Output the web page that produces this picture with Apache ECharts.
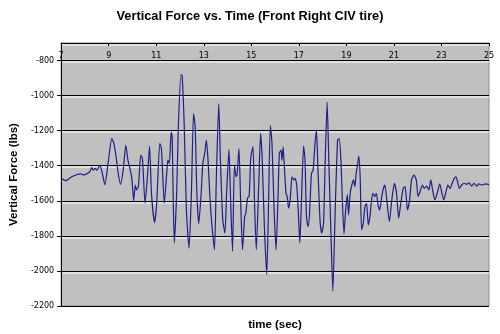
<!DOCTYPE html>
<html><head><meta charset="utf-8">
<script src="https://cdn.jsdelivr.net/npm/echarts@6/dist/echarts.min.js"></script>
<style>html,body{margin:0;padding:0;background:#fff}#c{width:500px;height:334px}</style>
</head><body><div id="c"></div>
<script>
const times = [7.00,7.21,7.41,7.62,7.82,7.96,8.10,8.21,8.28,8.35,8.43,8.51,8.62,8.70,8.84,8.99,9.13,9.22,9.33,9.40,9.50,9.61,9.72,9.81,9.91,9.98,10.05,10.12,10.17,10.25,10.35,10.42,10.53,10.63,10.72,10.80,10.93,11.02,11.15,11.22,11.34,11.45,11.49,11.55,11.63,11.67,11.76,11.86,11.93,12.04,12.09,12.18,12.27,12.38,12.48,12.57,12.64,12.71,12.79,12.89,12.96,13.04,13.11,13.18,13.25,13.33,13.45,13.53,13.63,13.70,13.80,13.89,13.96,14.06,14.12,14.21,14.29,14.36,14.40,14.48,14.55,14.63,14.72,14.77,14.84,14.91,14.98,15.07,15.14,15.21,15.31,15.39,15.46,15.55,15.65,15.72,15.80,15.87,15.96,16.04,16.12,16.18,16.25,16.29,16.34,16.39,16.46,16.51,16.57,16.64,16.71,16.78,16.84,16.91,16.98,17.04,17.12,17.20,17.26,17.32,17.39,17.45,17.53,17.60,17.67,17.74,17.80,17.89,17.96,18.04,18.11,18.19,18.26,18.35,18.43,18.53,18.63,18.70,18.77,18.83,18.90,18.97,19.04,19.09,19.16,19.23,19.30,19.36,19.41,19.48,19.52,19.58,19.64,19.71,19.78,19.85,19.92,19.99,20.06,20.12,20.19,20.26,20.33,20.40,20.47,20.54,20.62,20.70,20.81,20.91,21.02,21.11,21.20,21.29,21.39,21.47,21.57,21.66,21.74,21.84,21.94,22.02,22.10,22.20,22.28,22.38,22.47,22.55,22.64,22.72,22.82,22.93,23.02,23.10,23.19,23.27,23.36,23.45,23.54,23.61,23.68,23.75,23.85,23.95,24.06,24.16,24.27,24.37,24.48,24.57,24.71,24.85,25.00];
const forces = [-1472,-1485,-1466,-1453,-1447,-1453,-1444,-1434,-1410,-1425,-1415,-1425,-1398,-1425,-1508,-1368,-1245,-1273,-1368,-1444,-1506,-1425,-1283,-1368,-1425,-1481,-1600,-1510,-1538,-1519,-1340,-1358,-1614,-1463,-1288,-1557,-1724,-1614,-1273,-1302,-1614,-1425,-1368,-1387,-1207,-1235,-1841,-1557,-1179,-880,-885,-1179,-1652,-1870,-1557,-1103,-1179,-1557,-1731,-1557,-1387,-1330,-1254,-1368,-1557,-1718,-1879,-1463,-1046,-1368,-1709,-1784,-1557,-1307,-1557,-1888,-1396,-1463,-1453,-1302,-1595,-1879,-1690,-1671,-1586,-1572,-1349,-1292,-1633,-1879,-1519,-1216,-1368,-1747,-2021,-1652,-1169,-1273,-1652,-1880,-1595,-1330,-1311,-1368,-1292,-1406,-1557,-1576,-1642,-1586,-1463,-1481,-1472,-1510,-1671,-1841,-1557,-1288,-1368,-1690,-1747,-1671,-1444,-1425,-1292,-1194,-1406,-1709,-1784,-1728,-1368,-1037,-1368,-1784,-2115,-1652,-1254,-1245,-1368,-1595,-1788,-1652,-1565,-1680,-1557,-1510,-1481,-1519,-1444,-1387,-1345,-1463,-1765,-1728,-1633,-1614,-1737,-1690,-1595,-1557,-1576,-1557,-1623,-1652,-1595,-1538,-1510,-1595,-1718,-1595,-1500,-1557,-1699,-1614,-1529,-1519,-1652,-1595,-1481,-1453,-1481,-1576,-1548,-1510,-1529,-1516,-1538,-1481,-1548,-1595,-1557,-1504,-1557,-1595,-1548,-1510,-1529,-1500,-1472,-1463,-1491,-1529,-1510,-1500,-1506,-1497,-1516,-1500,-1516,-1504,-1510,-1504,-1508];
const titleText = 'Vertical Force vs. Time (Front Right CIV tire)';
const xTitle = 'time (sec)';
const yTitle = 'Vertical Force (lbs)';

const chart = echarts.init(document.getElementById('c'), null, {renderer: 'canvas'});
const data = times.map((t, i) => [t, forces[i]]);
chart.setOption({
  animation: false,
  backgroundColor: '#fff',
  title: [
    {text: titleText, left: 'center', top: 5, textStyle: {fontFamily: 'Liberation Sans', fontWeight: 'bold', fontSize: 12.75, color: '#000'}},
    {text: xTitle, left: 270, textAlign: 'center', top: 314, textStyle: {fontFamily: 'Liberation Sans', fontWeight: 'bold', fontSize: 11.5, color: '#000'}}
  ],
  grid: {left: 52, right: 11, top: 43, bottom: 28, show: true, backgroundColor: '#c0c0c0', borderColor: '#8a8a8a', borderWidth: 1},
  xAxis: {
    type: 'value', min: 7, max: 25, interval: 2, position: 'top',
    axisLine: {show: true, lineStyle: {color: '#000', width: 1}},
    axisTick: {show: true, inside: true, length: 3, lineStyle: {color: '#000'}},
    axisLabel: {inside: true, margin: 9, fontSize: 8, color: '#000', fontFamily: 'DejaVu Sans'},
    splitLine: {show: false}
  },
  yAxis: {
    type: 'value', min: -2200, max: -700, interval: 200,
    name: yTitle, nameLocation: 'middle', nameGap: 37,
    nameTextStyle: {fontFamily: 'Liberation Sans', fontWeight: 'bold', fontSize: 11.5, color: '#000'},
    axisLine: {show: true, lineStyle: {color: '#000', width: 1}},
    axisTick: {show: true, length: 4, lineStyle: {color: '#000'}},
    axisLabel: {fontSize: 8, color: '#000', margin: 7, fontFamily: 'DejaVu Sans', showMaxLabel: false,
      formatter: v => (v === -700 ? '' : String(v))},
    splitLine: {show: true, lineStyle: {color: '#000', width: 1, shadowColor: '#ffffff', shadowOffsetY: 1.5, shadowBlur: 0}}
  },
  series: [{
    type: 'line', data: data, showSymbol: false, smooth: 0.2,
    lineStyle: {color: '#1f1f8a', width: 1.2}
  }]
});
</script></body></html>
